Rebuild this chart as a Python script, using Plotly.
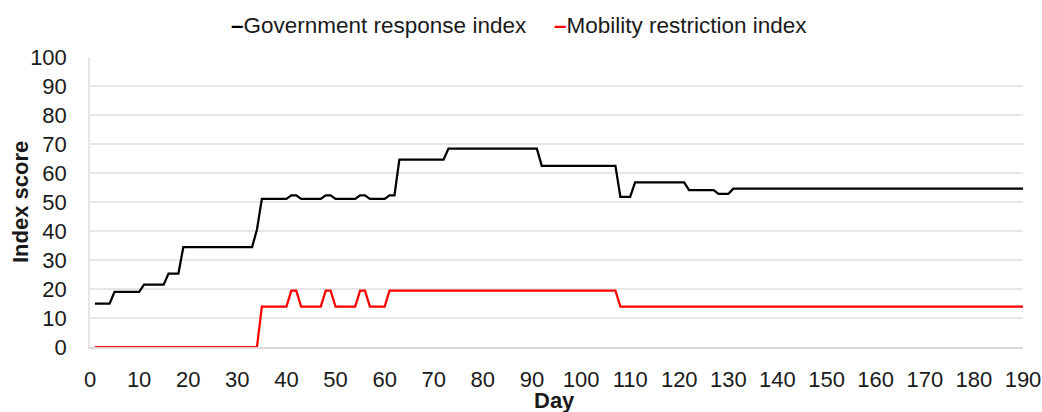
import plotly.graph_objects as go

# Government response index: change points (day, value)
gov_days = [1, 4, 5, 10, 11, 15, 16, 18, 19, 33, 34, 35, 40, 41, 42, 43, 47, 48, 49, 50,
            54, 55, 56, 57, 60, 61, 62, 63, 72, 73, 91, 92, 107, 108, 110, 111, 121, 122,
            127, 128, 130, 131, 190]
gov_vals = [15, 15, 19, 19, 21.5, 21.5, 25.3, 25.3, 34.4, 34.4, 40.5, 51.1, 51.1, 52.3, 52.3,
            51.1, 51.1, 52.3, 52.3, 51.1, 51.1, 52.3, 52.3, 51.1, 51.1, 52.3, 52.3, 64.6, 64.6,
            68.4, 68.4, 62.5, 62.5, 51.8, 51.8, 56.8, 56.8, 54.1, 54.1, 52.8, 52.8, 54.6, 54.6]

# Mobility restriction index: change points (day, value)
mob_days = [1, 34, 35, 40, 41, 42, 43, 47, 48, 49, 50, 54, 55, 56, 57, 60, 61, 107, 108, 190]
mob_vals = [0, 0, 13.9, 13.9, 19.4, 19.4, 13.9, 13.9, 19.4, 19.4, 13.9, 13.9, 19.4, 19.4,
            13.9, 13.9, 19.4, 19.4, 13.9, 13.9]

series_names = ["Government response index", "Mobility restriction index"]
series_colors = ["#000000", "#ff0000"]

x_ticks = list(range(0, 191, 10))
y_ticks = list(range(0, 101, 10))

FONT = "Liberation Sans, Arial, sans-serif"
TXT = "#1a1a1a"

fig = go.Figure()
fig.add_trace(go.Scatter(x=gov_days, y=gov_vals, mode="lines", name=series_names[0],
                         line=dict(color=series_colors[0], width=2.25), showlegend=False))
fig.add_trace(go.Scatter(x=mob_days, y=mob_vals, mode="lines", name=series_names[1],
                         line=dict(color=series_colors[1], width=2.25), showlegend=False))

# legend drawn as text items
legend_x = [0.149, 0.495]
for name, color, lx in zip(series_names, series_colors, legend_x):
    fig.add_annotation(xref="paper", yref="paper", x=lx, y=1.11, xanchor="left", yanchor="middle",
                       showarrow=False,
                       text=f"<span style='color:{color}'><b>–</b></span>{name}",
                       font=dict(family=FONT, size=22.5, color=TXT))

# axis titles
fig.add_annotation(xref="paper", yref="paper", x=-0.075, y=0.5, xanchor="center", yanchor="middle",
                   showarrow=False, textangle=-90, text="<b>Index score</b>",
                   font=dict(family=FONT, size=22, color=TXT))
fig.add_annotation(xref="paper", yref="paper", x=0.4975, y=-0.186, xanchor="center", yanchor="middle",
                   showarrow=False, text="<b>Day</b>",
                   font=dict(family=FONT, size=22, color=TXT))

fig.update_layout(
    width=1042, height=412,
    margin=dict(l=90, r=19, t=57, b=65),
    paper_bgcolor="white", plot_bgcolor="white",
    font=dict(family=FONT, size=22, color=TXT),
    showlegend=False,
)
fig.update_xaxes(
    range=[0, 190], tickvals=x_ticks, ticktext=[str(v) for v in x_ticks],
    showgrid=False, zeroline=False, automargin=False,
    showline=True, linecolor="#d9d9d9", linewidth=1.5,
    ticks="", ticklabelstandoff=12,
    tickfont=dict(size=22, color=TXT),
)
fig.update_yaxes(
    range=[0, 100], tickvals=y_ticks, ticktext=[str(v) for v in y_ticks],
    showgrid=True, gridcolor="#e6e6e6", gridwidth=1.5, zeroline=False, automargin=False,
    showline=True, linecolor="#e6e6e6", linewidth=1.5,
    ticks="", ticklabelstandoff=17,
    tickfont=dict(size=22, color=TXT),
)

fig.write_html("out.html", config={"displayModeBar": False},
               post_script="document.body.style.margin='0';document.body.style.overflow='hidden';")
